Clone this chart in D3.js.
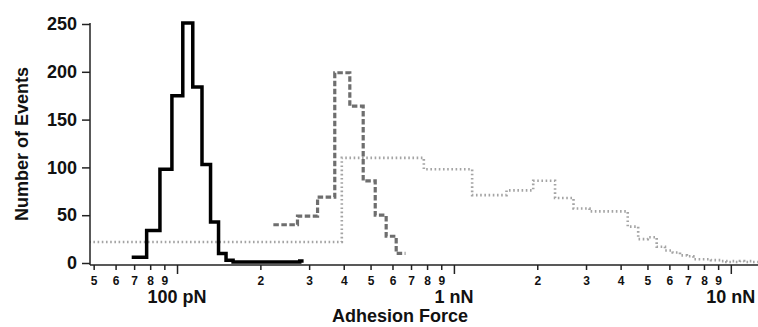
<!DOCTYPE html>
<html>
<head>
<meta charset="utf-8">
<script src="https://cdn.jsdelivr.net/npm/d3@7"></script>
<style>
  body { margin: 0; background: #fff; }
  svg text { font-family: "Liberation Sans", Arial, sans-serif; font-weight: bold; fill: #111; }
</style>
</head>
<body>
<svg id="chart" width="758" height="327"></svg>
<script>
// histograms: first bin edge (pN), bin width (pN), counts per bin
const blackStart = 68.6, blackWidth = 9.08;
const blackCounts = [6, 34, 98, 175, 251, 184, 103, 43, 10, 3, 1, 1, 1, 1, 1, 1, 1, 1, 1, 1, 1, 1, 1, 2];

const dashStart = 222.8, dashWidth = 49.5;
const dashCounts = [40, 49, 69, 199, 164, 86, 50, 28, 10];

const dotStart = 8.7, dotWidth = 385;
const dotCounts = [22, 110, 98, 71, 76, 86, 68, 57, 54, 54, 54, 38, 25, 27, 17, 13, 11, 8, 7,
                   4, 4, 4, 3, 3, 2, 1, 2, 1, 2, 1, 2, 1, 1];

const yTicks = [0, 50, 100, 150, 200, 250];
const minorTicks = [50, 60, 70, 80, 90, 200, 300, 400, 500, 600, 700, 800, 900,
                    2000, 3000, 4000, 5000, 6000, 7000, 8000, 9000];
const majorTicks = [100, 1000, 10000];
const majorLabels = ["100 pN", "1 nN", "10 nN"];

const svg = d3.select("#chart");
const plotLeft = 90, plotRight = 758.6, plotTop = 24, plotBottom = 263, axisY = 265;

const x = d3.scaleLog().domain([48.5, 12600]).range([plotLeft, plotRight]);
const y = d3.scaleLinear().domain([0, 250]).range([plotBottom, plotTop]);

svg.append("clipPath").attr("id", "plotClip")
  .append("rect").attr("x", plotLeft).attr("y", 0).attr("width", plotRight - plotLeft).attr("height", axisY);

// turn start/width/counts into step points
function steps(start, width, counts) {
  let pts = counts.map((c, i) => [start + i * width, c]);
  pts.push([start + counts.length * width, counts[counts.length - 1]]);
  return pts;
}

let line = d3.line()
  .x(d => x(d[0]))
  .y(d => y(d[1]))
  .curve(d3.curveStepAfter);

let plot = svg.append("g").attr("clip-path", "url(#plotClip)");

plot.append("path")
  .attr("d", line(steps(dotStart, dotWidth, dotCounts)))
  .attr("fill", "none")
  .attr("stroke", "#a4a4a4")
  .attr("stroke-width", 2.6)
  .attr("stroke-dasharray", "1.6,2.6");

plot.append("path")
  .attr("d", line(steps(dashStart, dashWidth, dashCounts)))
  .attr("fill", "none")
  .attr("stroke", "#6e6e6e")
  .attr("stroke-width", 3.2)
  .attr("stroke-dasharray", "5.5,2.5");

plot.append("path")
  .attr("d", line(steps(blackStart, blackWidth, blackCounts)))
  .attr("fill", "none")
  .attr("stroke", "#000")
  .attr("stroke-width", 3.5);

// y axis
let yAxis = svg.append("g")
  .attr("transform", "translate(" + plotLeft + ",0)")
  .call(d3.axisLeft(y).tickValues(yTicks).tickSize(8).tickSizeOuter(0).tickPadding(5));
yAxis.select(".domain").remove();
yAxis.selectAll("line").attr("stroke", "#222").attr("stroke-width", 1.5);
yAxis.selectAll("text").attr("font-size", 18).attr("font-family", null);
svg.append("line")
  .attr("x1", plotLeft).attr("x2", plotLeft).attr("y1", plotTop - 1).attr("y2", axisY)
  .attr("stroke", "#222").attr("stroke-width", 1.5);

// x axis, minor ticks with digit labels
let xMinor = svg.append("g")
  .attr("transform", "translate(0," + axisY + ")")
  .call(d3.axisBottom(x).tickValues(minorTicks).tickSize(5).tickSizeOuter(0).tickPadding(6)
    .tickFormat(d => String(Math.round(d / Math.pow(10, Math.floor(Math.log10(d)))))));
xMinor.select(".domain").remove();
xMinor.selectAll("line").attr("stroke", "#222").attr("stroke-width", 1.5);
xMinor.selectAll("text").attr("font-size", 12).attr("font-family", null);

let xMajor = svg.append("g")
  .attr("transform", "translate(0," + axisY + ")")
  .call(d3.axisBottom(x).tickValues(majorTicks).tickSize(9).tickSizeOuter(0).tickFormat(""));
xMajor.select(".domain").remove();
xMajor.selectAll("line").attr("stroke", "#222").attr("stroke-width", 1.5);

svg.append("line")
  .attr("x1", plotLeft).attr("x2", 758).attr("y1", axisY).attr("y2", axisY)
  .attr("stroke", "#222").attr("stroke-width", 1.5);

svg.selectAll(".majorLabel")
  .data(majorTicks)
  .enter()
  .append("text")
  .attr("class", "majorLabel")
  .attr("x", d => x(d))
  .attr("y", 303)
  .attr("text-anchor", "middle")
  .attr("font-size", 18)
  .text((d, i) => majorLabels[i]);

svg.append("text")
  .attr("x", 400)
  .attr("y", 322)
  .attr("text-anchor", "middle")
  .attr("font-size", 18)
  .text("Adhesion Force");

svg.append("text")
  .attr("transform", "translate(28,144) rotate(-90)")
  .attr("text-anchor", "middle")
  .attr("font-size", 18)
  .text("Number of Events");
</script>
</body>
</html>
